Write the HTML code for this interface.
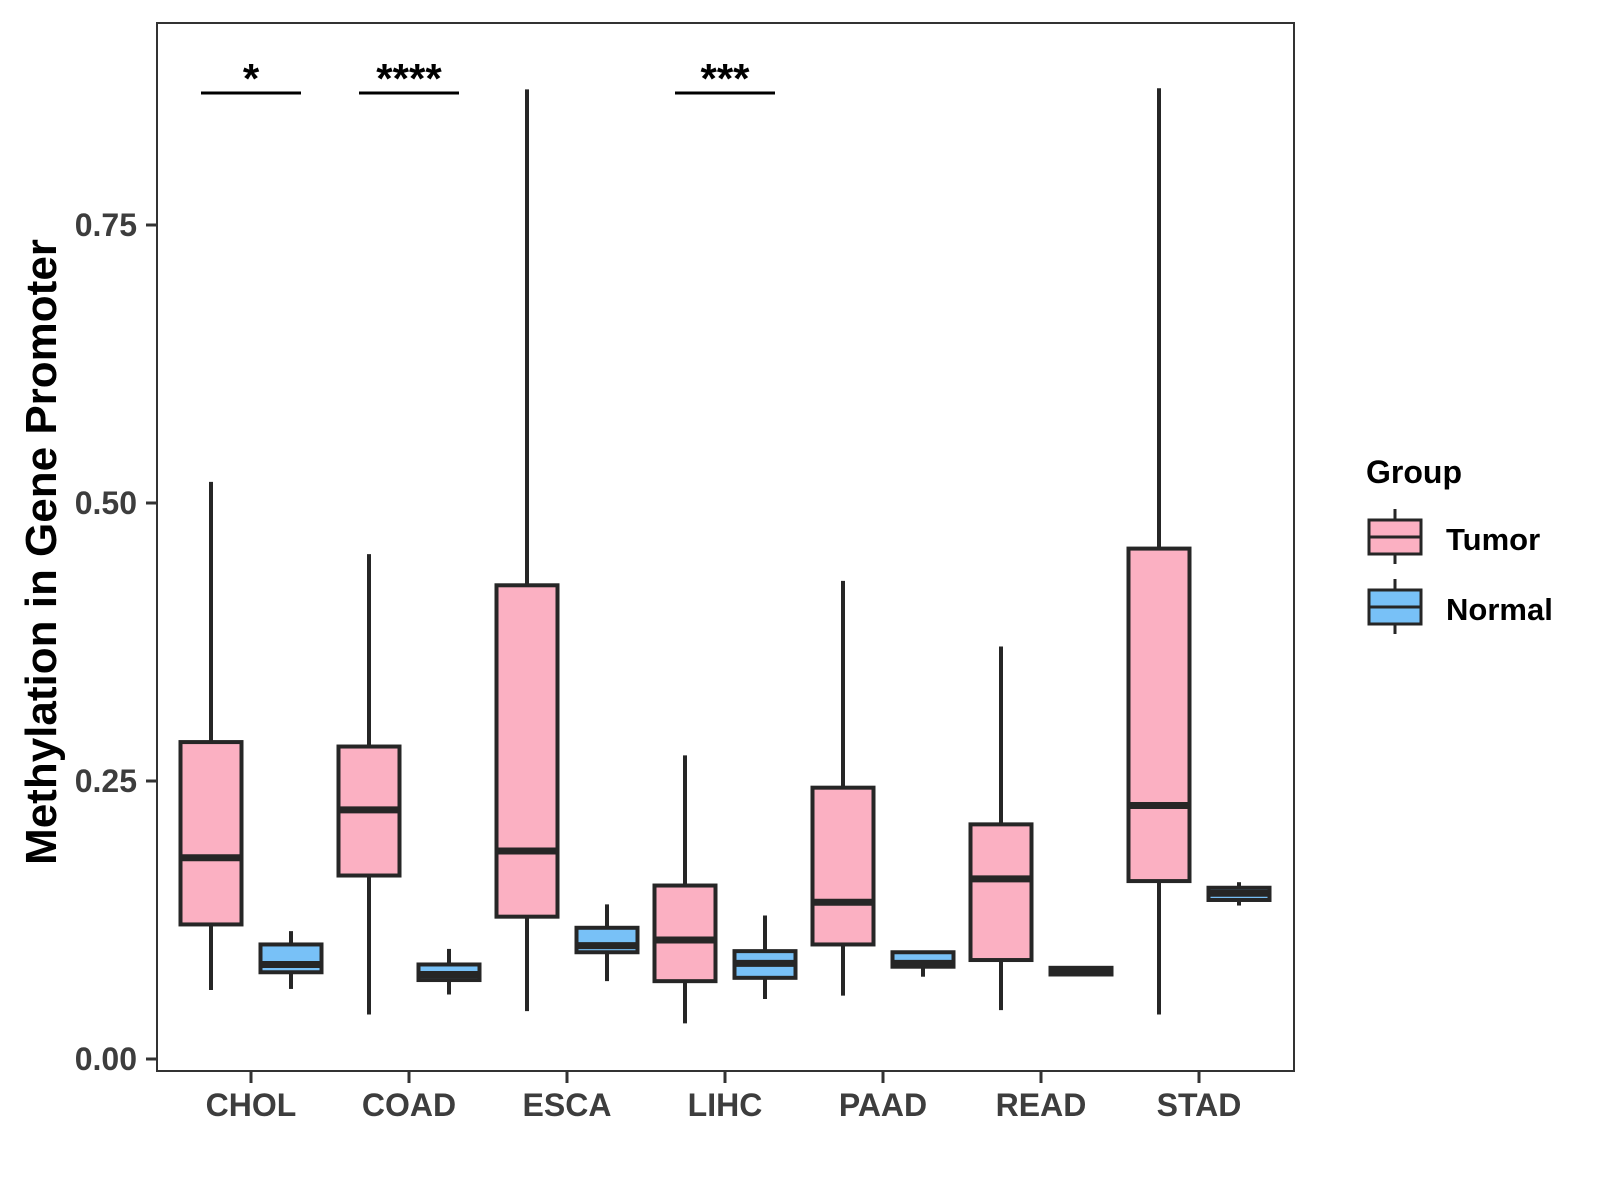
<!DOCTYPE html>
<html><head><meta charset="utf-8"><style>
html,body{margin:0;padding:0;background:#fff;}
svg{display:block;font-family:"Liberation Sans",Arial,sans-serif;}
</style></head><body>
<svg id="chart" width="1600" height="1200" viewBox="0 0 1600 1200">
<rect x="0" y="0" width="1600" height="1200" fill="#fff"/>
<g id="marks"></g>
<rect x="157" y="23" width="1137" height="1048" fill="none" stroke="#333" stroke-width="2"/>
<g id="axes"></g>
<text x="0" y="0" transform="translate(56,552) rotate(-90)" text-anchor="middle" font-size="44" font-weight="bold" fill="#000">Methylation in Gene Promoter</text>
<g>
<text x="1366" y="483" font-size="32" font-weight="bold" fill="#000">Group</text>
<g>
<line x1="1395" y1="509" x2="1395" y2="564" stroke="#262626" stroke-width="3"/>
<rect x="1369" y="520" width="52" height="34" fill="#FBB0C2" stroke="#262626" stroke-width="3"/>
<line x1="1369" y1="537" x2="1421" y2="537" stroke="#262626" stroke-width="3"/>
<text x="1446" y="550" font-size="31" font-weight="bold" fill="#000">Tumor</text>
</g>
<g>
<line x1="1395" y1="579" x2="1395" y2="634" stroke="#262626" stroke-width="3"/>
<rect x="1369" y="590" width="52" height="34" fill="#78C1F7" stroke="#262626" stroke-width="3"/>
<line x1="1369" y1="607" x2="1421" y2="607" stroke="#262626" stroke-width="3"/>
<text x="1446" y="620" font-size="31" font-weight="bold" fill="#000">Normal</text>
</g>
</g>
</svg>
<script>
const categories = ["CHOL","COAD","ESCA","LIHC","PAAD","READ","STAD"];
// [lowWhisker, Q1, median, Q3, highWhisker]
const tumorStats = [
  [0.062,0.121,0.181,0.285,0.519],
  [0.040,0.165,0.224,0.281,0.454],
  [0.043,0.128,0.187,0.426,0.872],
  [0.032,0.070,0.107,0.156,0.273],
  [0.057,0.103,0.141,0.244,0.430],
  [0.044,0.089,0.162,0.211,0.371],
  [0.040,0.160,0.228,0.459,0.873]
];
const normalStats = [
  [0.063,0.078,0.085,0.103,0.115],
  [0.058,0.071,0.076,0.085,0.099],
  [0.070,0.096,0.102,0.118,0.139],
  [0.054,0.073,0.086,0.097,0.129],
  [0.074,0.083,0.086,0.096,0.097],
  [0.075,0.076,0.079,0.082,0.083],
  [0.138,0.143,0.149,0.154,0.159]
];
const yTicks = [0, 0.25, 0.5, 0.75];
const yTickLabels = ["0.00","0.25","0.50","0.75"];
const sigCategories = ["CHOL","COAD","LIHC"];
const sigLabels = ["*","****","***"];

const NS = "http://www.w3.org/2000/svg";
const y = v => 1059 - v * 1112;
const x = i => 251 + i * 158;
const marks = document.getElementById("marks");
const axes = document.getElementById("axes");
function mk(tag, attrs, parent){
  const e = document.createElementNS(NS, tag);
  for (const k in attrs) e.setAttribute(k, attrs[k]);
  parent.appendChild(e);
  return e;
}
function drawBox(cx, s, fill, name){
  const g = mk("g", {}, marks);
  
  
  const w = 61;
  mk("line", {x1:cx, x2:cx, y1:y(s[4]), y2:y(s[0]), stroke:"#262626", "stroke-width":4}, g);
  mk("rect", {x:cx-w/2, y:y(s[3]), width:w, height:Math.max(0.5, y(s[1])-y(s[3])), fill:fill, stroke:"#262626", "stroke-width":4}, g);
  mk("line", {x1:cx-w/2, x2:cx+w/2, y1:y(s[2]), y2:y(s[2]), stroke:"#262626", "stroke-width":7}, g);
}
categories.forEach((c, i) => {
  drawBox(x(i) - 40, tumorStats[i], "#FBB0C2", "box-tumor-" + c.toLowerCase());
  drawBox(x(i) + 40, normalStats[i], "#78C1F7", "box-normal-" + c.toLowerCase());
  const t = mk("line", {x1:x(i), x2:x(i), y1:1071, y2:1083, stroke:"#333", "stroke-width":3}, axes);
  
  
  const l = mk("text", {x:x(i), y:1116, "text-anchor":"middle", "font-size":32, "font-weight":"bold", fill:"#3d3d3d"}, axes);
  l.textContent = c;
  
  
});
yTicks.forEach((v, i) => {
  const t = mk("line", {x1:146, x2:157, y1:y(v), y2:y(v), stroke:"#333", "stroke-width":3}, axes);
  
  
  const l = mk("text", {x:137, y:y(v)+11, "text-anchor":"end", "font-size":32, "font-weight":"bold", fill:"#3d3d3d"}, axes);
  l.textContent = yTickLabels[i];
  
  
});
sigCategories.forEach((c, k) => {
  const i = categories.indexOf(c);
  const ln = mk("line", {x1:x(i)-50, x2:x(i)+50, y1:93, y2:93, stroke:"#000", "stroke-width":3}, marks);
  
  
  const t = mk("text", {x:x(i), y:93, "text-anchor":"middle", "font-size":42, "font-weight":"bold", fill:"#000"}, marks);
  t.textContent = sigLabels[k];
  
  
});
</script>
</body></html>
